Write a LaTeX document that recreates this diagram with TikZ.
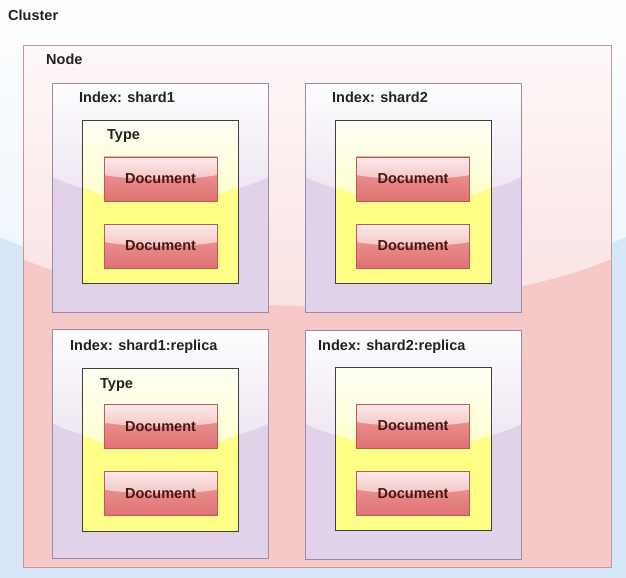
\documentclass[tikz,border=0pt]{standalone}
\usepackage{fontspec}
\setmainfont{Liberation Sans}
\usetikzlibrary{calc}
\definecolor{clusterc}{HTML}{D6E7F9}
\definecolor{nodec}{HTML}{F6C8C8}
\definecolor{nodeb}{HTML}{C09898}
\definecolor{indexc}{HTML}{E0D2E8}
\definecolor{indexb}{HTML}{9A8AA8}
\definecolor{typec}{HTML}{FFFF88}
\definecolor{typeb}{HTML}{404040}
\definecolor{docc}{HTML}{EA7878}
\definecolor{docb}{HTML}{C05858}
\definecolor{doctext}{HTML}{4A1414}
\definecolor{labelc}{HTML}{222222}
\tikzset{
  x=1bp, y=-1bp,
  gloss/.style n args={3}{path picture={
    \coordinate (gL) at ($(path picture bounding box.north west)!0.41!(path picture bounding box.south west)$);
    \coordinate (gR) at ($(path picture bounding box.north east)!0.41!(path picture bounding box.south east)$);
    \coordinate (gLd) at ($(path picture bounding box.north west)!0.53!(path picture bounding box.south west)$);
    \coordinate (gRd) at ($(path picture bounding box.north east)!0.53!(path picture bounding box.south east)$);
    \shade[top color=#1!#2!white, bottom color=#1!#3!white]
      (path picture bounding box.north west) -- (gL)
      .. controls ($(gLd)!0.25!(gRd)$) and ($(gLd)!0.75!(gRd)$) .. (gR)
      -- (path picture bounding box.north east) -- cycle;
  }},
  box/.style={rectangle, inner sep=0pt, line width=0.8bp},
  clusterbox/.style={box, fill=clusterc, gloss={clusterc}{3}{45}, minimum width=626bp, minimum height=578bp},
  nodebox/.style={box, fill=nodec, draw=nodeb, gloss={nodec}{12}{55}, minimum width=588bp, minimum height=522bp},
  indexbox/.style={box, fill=indexc, draw=indexb, gloss={indexc}{5}{60}, minimum width=216bp, minimum height=229bp},
  typebox/.style={box, fill=typec, draw=typeb, gloss={typec}{8}{45}, minimum width=156bp, minimum height=163bp},
  docbox/.style={box, top color=docc!70!white, bottom color=docc!95!black, draw=docb, gloss={docc}{15}{45},
    minimum width=113bp, minimum height=44bp, font=\bfseries\fontsize{14.5bp}{16bp}\selectfont, text=doctext},
  lbl/.style={anchor=base west, inner sep=0pt, font=\bfseries\fontsize{14.5bp}{16bp}\selectfont, text=labelc},
}
\begin{document}
\begin{tikzpicture}
\useasboundingbox (0,0) rectangle (626,578);
\node[clusterbox] (cluster) at (313,289) {};
\node[lbl] (clusterlbl) at (8,21) {Cluster};
\node[nodebox] (node) at (317,306) {};
\node[lbl] (nodelbl) at (46,65) {Node};
% row 1
\node[indexbox] (idx1) at (160.5,197.5) {};
\node[lbl] (idx1lbl) at (79,103) {Index: shard1};
\node[typebox] (type1) at (160,201.5) {};
\node[lbl] (type1lbl) at (107,140) {Type};
\node[docbox] (doc11) at (160.5,179) {Document};
\node[docbox] (doc12) at (160.5,246) {Document};
\node[indexbox] (idx2) at (413.5,197.5) {};
\node[lbl] (idx2lbl) at (332,103) {Index: shard2};
\node[typebox] (type2) at (413.5,201.5) {};
\node[docbox] (doc21) at (413,179) {Document};
\node[docbox] (doc22) at (413,246) {Document};
% row 2
\node[indexbox] (idx3) at (160.5,444) {};
\node[lbl] (idx3lbl) at (70,350) {Index: shard1:replica};
\node[typebox] (type3) at (160,449.5) {};
\node[lbl] (type3lbl) at (100,388) {Type};
\node[docbox] (doc31) at (160.5,426.5) {Document};
\node[docbox] (doc32) at (160.5,493.5) {Document};
\node[indexbox] (idx4) at (413.5,444.5) {};
\node[lbl] (idx4lbl) at (318,350) {Index: shard2:replica};
\node[typebox] (type4) at (413.5,448.5) {};
\node[docbox] (doc41) at (413,426) {Document};
\node[docbox] (doc42) at (413,493.5) {Document};
\end{tikzpicture}
\end{document}
